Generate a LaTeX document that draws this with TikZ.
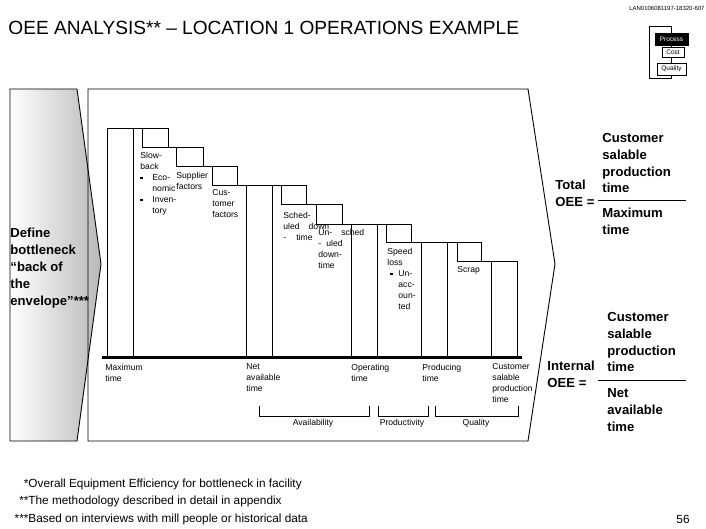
\documentclass[tikz,border=0pt]{standalone}
\usepackage{fontspec}
\setmainfont{Liberation Sans}
\usetikzlibrary{positioning}
\newcommand{\blt}{\rule[1pt]{2.6pt}{2.6pt}}

\begin{document}
\begin{tikzpicture}[x=1pt,y=-1pt,line width=0.9pt,
  every node/.style={inner sep=0pt,align=left},
  lbl/.style={anchor=north west,font=\fontsize{8.6}{11}\selectfont},
  big/.style={anchor=north west,font=\fontsize{13.1}{16.8}\selectfont\bfseries},
  note/.style={anchor=west,font=\fontsize{11.8}{14}\selectfont},
  tag/.style={draw,fill=white,minimum height=10pt,font=\fontsize{6.5}{7}\selectfont}]
\useasboundingbox (0,0) rectangle (706,529);
\node[anchor=east,font=\fontsize{6}{7}\selectfont] (code) at (705,8) {LAN0106081197-18320-607};
\node[anchor=west,font=\fontsize{19.1}{23}\selectfont] (title) at (8,28) {OEE ANALYSIS** -- LOCATION 1 OPERATIONS EXAMPLE};
\draw[fill=white] (649,26) rectangle (671,78);
\node[tag,fill=black,text=white,minimum width=33pt,minimum height=12pt] (proc) at (671.5,39) {Process};
\node[tag,minimum width=22pt] (cost) at (673,52.5) {Cost};
\node[tag,minimum width=29pt,minimum height=12pt] (qual) at (671.5,69) {Quality};
\draw[left color=white,right color=gray!55] (10,89) -- (77,89) -- (101,264) -- (77,441) -- (10,441) -- cycle;
\draw (88,89) -- (528,89) -- (555,264) -- (528,441) -- (88,441) -- cycle;
\node[big] (define) at (10,228) {Define\\bottleneck\\“back of\\the\\envelope”***};
\foreach \x/\t in {107/128,246/185,351/224,421/242,491/261}
  \draw (\x,357) -- (\x,\t) -- (\x+26,\t) -- (\x+26,357);
\foreach \l/\r/\t/\b in {142/168/128/147,176/203/147/166,212/237/166/185,281/306/185/204,316/342/204/224,386/411/224/242,457/481/242/261}
  \draw (\l,\t) rectangle (\r,\b);
\foreach \a/\b/\y in {107/168/128,142/203/147,176/237/166,212/306/185,281/342/204,316/411/224,386/481/242,457/517/261}
  \draw (\a,\y) -- (\b,\y);
\draw[line width=3pt] (102,357) -- (522,357);
\node[lbl] (slow) at (140,151.5) {Slow-\\back\\\makebox[12pt][l]{\blt}Eco-\\\hspace*{12pt}nomic\\\makebox[12pt][l]{\blt}Inven-\\\hspace*{12pt}tory};
\node[lbl] (supp) at (176,171.5) {Supplier\\factors};
\node[lbl] (cust) at (212,189.5) {Cus-\\tomer\\factors};
\node[lbl] (sched) at (283,211.5) {Sched-\\uled\hspace{9pt}down\\-\hspace{10pt}time};
\node[lbl] (unsched) at (318,229) {Un-\hspace{9pt}sched\\-\hspace{5pt}uled\\down-\\time};
\node[lbl] (speed) at (387,247.5) {Speed\\loss\\\hspace*{3pt}\makebox[8pt][l]{\blt}Un-\\\hspace*{11pt}acc-\\\hspace*{11pt}oun-\\\hspace*{11pt}ted};
\node[lbl] (scrap) at (457,266.5) {Scrap};
\node[lbl] (maxt) at (105,363.5) {Maximum\\time};
\node[lbl] (nett) at (246,363.5) {Net\\available\\time};
\node[lbl] (opt) at (351,363.5) {Operating\\time};
\node[lbl] (prodt) at (422,363.5) {Producing\\time};
\node[lbl] (custt) at (492,363.5) {Customer\\salable\\production\\time};
\draw (259,406) |- (369,416) -- (369,406);
\draw (378,406) |- (428,416) -- (428,406);
\draw (435,406) |- (518,416) -- (518,406);
\node[lbl,anchor=north] (avail) at (313,418.5) {Availability};
\node[lbl,anchor=north] (prodv) at (402,418.5) {Productivity};
\node[lbl,anchor=north] (quality) at (476,418.5) {Quality};
\node[big] (total) at (555,180) {Total\\OEE =};
\node[big] (num1) at (602,133) {Customer\\salable\\production\\time};
\draw (598,200) -- (686,200);
\node[big] (den1) at (602,208) {Maximum\\time};
\node[big] (internal) at (547,361) {Internal\\OEE =};
\node[big] (num2) at (607,312) {Customer\\salable\\production\\time};
\draw (598,380) -- (686,380);
\node[big] (den2) at (607,388) {Net\\available\\time};
\node[note] (fn1) at (28,484) {\llap{*}Overall Equipment Efficiency for bottleneck in facility};
\node[note] (fn2) at (28,501) {\llap{**}The methodology described in detail in appendix};
\node[note] (fn3) at (28,519) {\llap{***}Based on interviews with mill people or historical data};
\node[note] (page) at (676,519) {56};
\end{tikzpicture}
\end{document}
